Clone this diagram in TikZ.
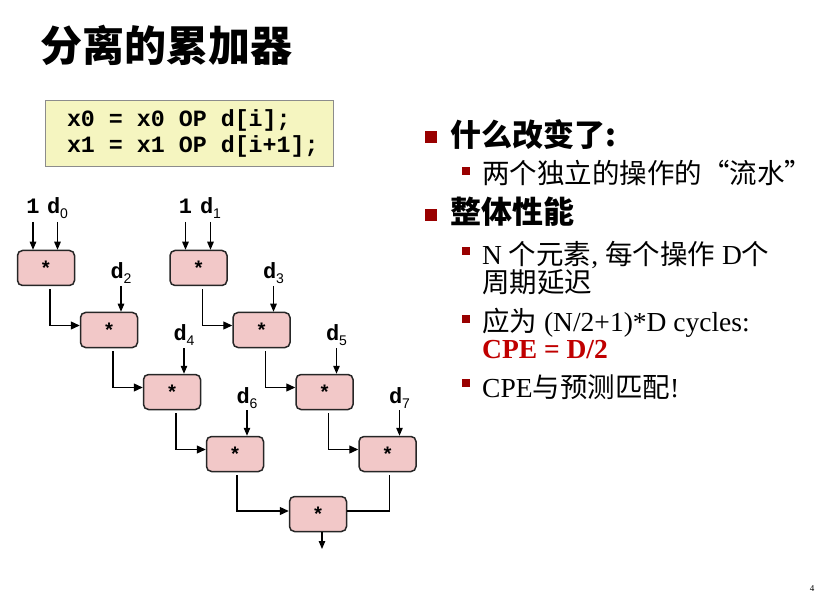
\documentclass[tikz,border=0pt]{standalone}
\usepackage{fontspec}
\setmainfont{Liberation Serif}
\newfontfamily\cjk{Noto Sans CJK SC}
\newfontfamily\codefont{Liberation Mono}
\newfontfamily\subfont{Liberation Sans}
\usetikzlibrary{arrows.meta}
\definecolor{opfill}{RGB}{242,200,200}
\definecolor{codefill}{RGB}{245,245,192}
\definecolor{bulletred}{RGB}{153,0,0}
\definecolor{cpered}{RGB}{192,0,0}
\newcommand\dsub[1]{d\raisebox{-5pt}{\subfont\mdseries\fontsize{14}{14}\selectfont #1}}
\newcommand\csp{\phantom{x}}
\tikzset{
  opbox/.style={draw=black!85,line width=1.5pt,rounded corners=5pt,fill=opfill,
    minimum width=57pt,minimum height=35pt,font=\codefont\bfseries\fontsize{20}{20}\selectfont},
  inlabel/.style={anchor=base,inner sep=2pt,font=\codefont\bfseries\fontsize{22}{22}\selectfont},
  codebox/.style={draw=black!45,line width=0.8pt,fill=codefill,minimum width=288pt,
    minimum height=66pt,text width=244pt,align=left,
    font=\codefont\bfseries\fontsize{23.3}{26}\selectfont},
  inarrow/.style={-{Triangle[length=8pt,width=6.5pt]},line width=1.2pt},
  flow/.style={-{Triangle[length=9pt,width=8pt]},line width=1.3pt,shorten <=3pt},
  bulleta/.style={fill=bulletred,inner sep=0pt,minimum size=12pt},
  bulletb/.style={fill=bulletred,inner sep=0pt,minimum size=8pt},
  lvla/.style={anchor=west,inner sep=0pt,font=\cjk\bfseries\fontsize{31}{31}\selectfont},
  lvlb/.style={anchor=west,inner sep=0pt,font=\fontsize{27.5}{30}\selectfont},
}
\begin{document}
\begin{tikzpicture}[x=1pt,y=-1pt]
\useasboundingbox (0,0) rectangle (816,601);
% 标题
\node[anchor=west,font=\cjk\bfseries\fontsize{42}{42}\selectfont] (title) at (37,45) {分离的累加器};
% 代码框
\node[codebox] (code) at (189,133) {x0\csp=\csp x0\csp OP\csp d[i];\\x1\csp=\csp x1\csp OP\csp d[i+1];};
% 两条乘法链
\foreach \i in {0,...,3} {
  \node[opbox] (a\i) at ({46+63*\i},{268+62*\i}) {*};
  \node[opbox] (b\i) at ({198.5+63*\i},{268+62*\i}) {*};
}
\node[opbox] (e) at (318,514) {*};
% 初始输入
\node[inlabel] (one0) at (33,214) {1};
\node[inlabel] (d0) at (57.5,214) {\dsub{0}};
\node[inlabel] (one1) at (185.5,214) {1};
\node[inlabel] (d1) at (210.5,214) {\dsub{1}};
\draw[inarrow] ([yshift=-8pt]one0.base) -- (one0 |- a0.north);
\draw[inarrow] ([yshift=-8pt]d0.base) -- (d0 |- a0.north);
\draw[inarrow] ([yshift=-8pt]one1.base) -- (one1 |- b0.north);
\draw[inarrow] ([yshift=-8pt]d1.base) -- (d1 |- b0.north);
% 各级数据输入
\foreach \i/\p/\q in {1/2/3,2/4/5,3/6/7} {
  \node[inlabel] (dl\p) at ([xshift=12pt,yshift=51pt]a\i.center) {\dsub{\p}};
  \node[inlabel] (dl\q) at ([xshift=12pt,yshift=51pt]b\i.center) {\dsub{\q}};
  \draw[inarrow] ([yshift=-7pt]dl\p.base) -- (dl\p |- a\i.north);
  \draw[inarrow] ([yshift=-7pt]dl\q.base) -- (dl\q |- b\i.north);
}
% 链内连接
\foreach \i/\n in {0/1,1/2,2/3} {
  \draw[flow] ([xshift=4pt]a\i.south) |- ([yshift=4.5pt]a\n.west);
  \draw[flow] ([xshift=4pt]b\i.south) |- ([yshift=4.5pt]b\n.west);
}
% 合并
\draw[flow] ([xshift=2pt]a3.south) |- ([yshift=3pt]e.west);
\draw[line width=1.3pt,shorten <=3pt] ([xshift=2pt]b3.south) |- ([yshift=3pt]e.east);
\coordinate (out) at (322,549);
\draw[inarrow] (e.south -| out) -- (out);
% 右侧要点
\node[bulleta] (ba1) at (431,137.5) {};
\node[lvla] (t1) at (450,135) {什么改变了:};
\node[bulletb] (bb1) at (466,171) {};
\node[lvlb] (t2) at (482,173) {\cjk 两个独立的操作的“流水”};
\node[bulleta] (ba2) at (431,215) {};
\node[lvla] (t3) at (450,212) {整体性能};
\node[bulletb] (bb2) at (466,251) {};
\node[lvlb] (t4) at (482,255) {N {\cjk 个元素}, {\cjk 每个操作} D{\cjk 个}};
\node[lvlb] (t5) at (482,282) {\cjk 周期延迟};
\node[bulletb] (bb3) at (466,319) {};
\node[lvlb] (t6) at (482,323) {{\cjk 应为} (N/2+1)*D cycles:};
\node[lvlb,text=cpered,font=\bfseries\fontsize{27.5}{30}\selectfont] (t7) at (482,350) {CPE = D/2};
\node[bulletb] (bb4) at (466,383) {};
\node[lvlb] (t8) at (482,387) {CPE{\cjk 与预测匹配}!};
% 页码
\node[font=\fontsize{9}{9}\selectfont,inner sep=0pt] (pg) at (812,589) {4};
\end{tikzpicture}
\end{document}
